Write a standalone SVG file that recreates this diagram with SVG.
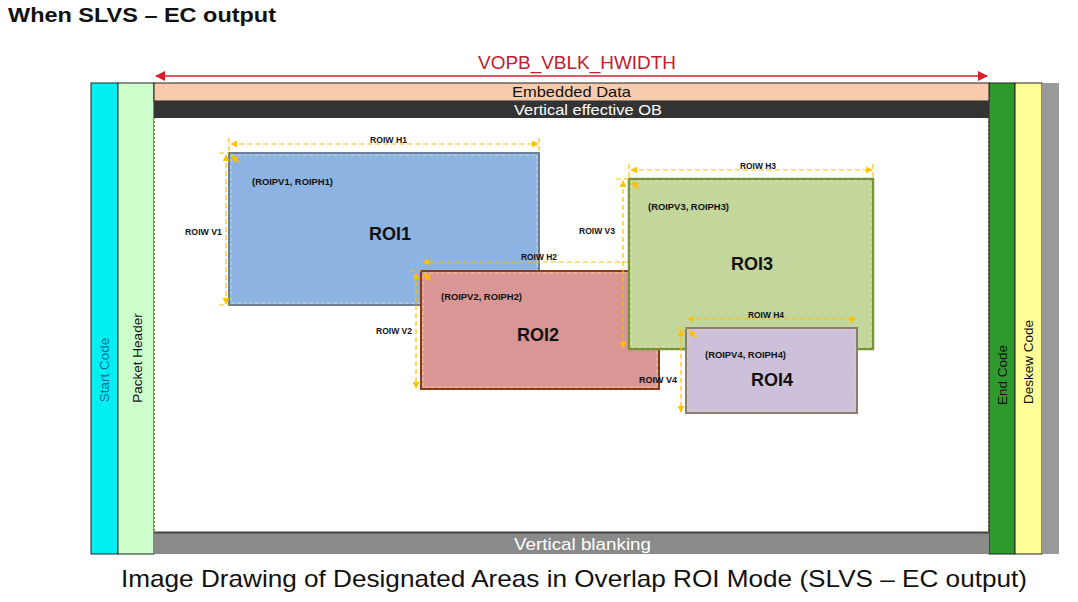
<svg xmlns="http://www.w3.org/2000/svg" width="1078" height="602" viewBox="0 0 1078 602">
<defs>
<marker id="ya" viewBox="0 0 10 10" refX="9" refY="5" markerWidth="7" markerHeight="7" orient="auto-start-reverse" markerUnits="userSpaceOnUse"><path d="M0,0 L10,5 L0,10 z" fill="#ffc000"/></marker>
<marker id="ra" viewBox="0 0 10 10" refX="9" refY="5" markerWidth="11" markerHeight="10" orient="auto-start-reverse" markerUnits="userSpaceOnUse"><path d="M0,0 L10,5 L0,10 z" fill="#d9202a"/></marker>
<style>
.t{font-family:"Liberation Sans",Arial,sans-serif}
.lbl{font-family:"Liberation Sans",Arial,sans-serif;font-size:9px;font-weight:bold;fill:#111}
.roi{font-family:"Liberation Sans",Arial,sans-serif;font-size:18px;font-weight:bold;fill:#111;text-anchor:middle}
.dim{stroke:#ffc000;stroke-width:1.2;stroke-dasharray:5 3;fill:none}
.cor{stroke:#ffc000;stroke-width:1.5;fill:none}
.vt{font-family:"Liberation Sans",Arial,sans-serif;font-size:13.5px;text-anchor:middle}
.in{fill:none;stroke-width:1;stroke-dasharray:4 2}
</style>
</defs>
<rect width="1078" height="602" fill="#ffffff"/>
<text class="t" x="8" y="22" font-size="20" font-weight="bold" fill="#111" textLength="268" lengthAdjust="spacingAndGlyphs">When SLVS – EC output</text>

<g id="frame">
<rect x="91" y="83" width="27" height="471" fill="#00f0f0" stroke="#222" stroke-width="1"/>
<rect x="118" y="83" width="36" height="471" fill="#ccffcc" stroke="#222" stroke-width="1"/>
<rect x="154" y="83" width="835" height="449" fill="#ffffff"/>
<line x1="154.5" y1="101" x2="154.5" y2="532" stroke="#8a8a30" stroke-width="1" stroke-dasharray="2 2"/>
<line x1="988.5" y1="101" x2="988.5" y2="532" stroke="#8a8a30" stroke-width="1" stroke-dasharray="2 2"/>
<rect x="989" y="83" width="26" height="471" fill="#2e9a2e" stroke="#222" stroke-width="1"/>
<rect x="1015" y="83" width="27" height="471" fill="#ffff99" stroke="#222" stroke-width="1"/>
<rect x="1042" y="83" width="17" height="471" fill="#9a9a9a"/>
<text class="vt" transform="translate(109,370) rotate(-90)" fill="#0070a0">Start Code</text>
<text class="vt" transform="translate(142,358) rotate(-90)" fill="#111">Packet Header</text>
<text class="vt" transform="translate(1007,375) rotate(-90)" fill="#111">End Code</text>
<text class="vt" transform="translate(1033,362) rotate(-90)" fill="#111">Deskew Code</text>
</g>

<g id="embedded">
<rect x="154" y="83" width="835" height="18" fill="#f8cbad" stroke="#222" stroke-width="1"/>
<text class="t" x="512" y="97" font-size="15" fill="#111" textLength="119" lengthAdjust="spacingAndGlyphs">Embedded Data</text>
</g>
<g id="vob">
<rect x="154" y="101" width="835" height="17" fill="#333333"/>
<text class="t" x="514" y="115" font-size="15" fill="#ffffff" textLength="148" lengthAdjust="spacingAndGlyphs">Vertical effective OB</text>
</g>
<g id="vblank">
<rect x="154" y="532" width="835" height="22" fill="#8a8a8a"/>
<line x1="154" y1="532.5" x2="989" y2="532.5" stroke="#444" stroke-width="2"/>
<text class="t" x="514" y="550" font-size="17" fill="#ffffff" textLength="137" lengthAdjust="spacingAndGlyphs">Vertical blanking</text>
</g>

<g id="roi1">
<rect x="229" y="153" width="310" height="152" fill="#8db3e2" stroke="#6b7f99" stroke-width="2"/>
<rect x="231" y="155" width="306" height="148" class="in" stroke="#c8d0dc"/>
<text class="roi" x="390" y="240">ROI1</text>
<text class="lbl" x="252" y="185" textLength="81" lengthAdjust="spacingAndGlyphs">(ROIPV1, ROIPH1)</text>
</g>
<g id="roi2">
<rect x="421" y="271" width="238" height="118" fill="#da9694" stroke="#8b3a1a" stroke-width="2"/>
<rect x="423" y="273" width="234" height="114" class="in" stroke="#f0c890"/>
<text class="roi" x="538" y="341">ROI2</text>
<text class="lbl" x="441" y="300" textLength="81" lengthAdjust="spacingAndGlyphs">(ROIPV2, ROIPH2)</text>
</g>
<g id="roi3">
<rect x="629" y="179" width="244" height="170" fill="#c3d69b" stroke="#77933c" stroke-width="2.5"/>
<rect x="631" y="181" width="240" height="166" class="in" stroke="#e0e8a8"/>
<text class="roi" x="752" y="270">ROI3</text>
<text class="lbl" x="648" y="210" textLength="81" lengthAdjust="spacingAndGlyphs">(ROIPV3, ROIPH3)</text>
</g>
<g id="roi4">
<rect x="686" y="328" width="171" height="85" fill="#ccc0da" stroke="#8c7b70" stroke-width="2"/>
<rect x="688" y="330" width="167" height="81" class="in" stroke="#e0d0b8"/>
<text class="roi" x="772" y="386">ROI4</text>
<text class="lbl" x="705" y="358" textLength="81" lengthAdjust="spacingAndGlyphs">(ROIPV4, ROIPH4)</text>
</g>

<g id="connectors">
<line x1="156" y1="76" x2="987" y2="76" stroke="#d9202a" stroke-width="1.5" marker-start="url(#ra)" marker-end="url(#ra)"/>
<text class="t" x="478" y="69" font-size="18" fill="#c0202a" textLength="198" lengthAdjust="spacingAndGlyphs">VOPB_VBLK_HWIDTH</text>

<line class="dim" x1="231" y1="144" x2="538" y2="144" marker-start="url(#ya)" marker-end="url(#ya)"/>
<line class="dim" x1="229" y1="138" x2="229" y2="153" stroke-dasharray="2 2"/>
<line class="dim" x1="539" y1="138" x2="539" y2="153" stroke-dasharray="2 2"/>
<text class="lbl" x="370" y="143" textLength="37" lengthAdjust="spacingAndGlyphs">ROIW H1</text>
<line class="dim" x1="226" y1="155" x2="226" y2="304" marker-start="url(#ya)" marker-end="url(#ya)"/>
<line class="dim" x1="219" y1="153" x2="229" y2="153" stroke-dasharray="2 2"/>
<line class="dim" x1="219" y1="305" x2="229" y2="305" stroke-dasharray="2 2"/>
<text class="lbl" x="185" y="235" textLength="37" lengthAdjust="spacingAndGlyphs">ROIW V1</text>
<line class="cor" x1="240" y1="163" x2="232" y2="156" marker-end="url(#ya)"/>

<line class="dim" x1="423" y1="262" x2="629" y2="262" marker-start="url(#ya)"/>
<text class="lbl" x="521" y="260" textLength="36" lengthAdjust="spacingAndGlyphs">ROIW H2</text>
<line class="dim" x1="416" y1="273" x2="416" y2="388" marker-start="url(#ya)" marker-end="url(#ya)"/>
<line class="dim" x1="410" y1="271" x2="421" y2="271" stroke-dasharray="2 2"/>
<text class="lbl" x="376" y="334" textLength="36" lengthAdjust="spacingAndGlyphs">ROIW V2</text>
<line class="cor" x1="432" y1="281" x2="424" y2="274" marker-end="url(#ya)"/>

<line class="dim" x1="631" y1="170" x2="872" y2="170" marker-start="url(#ya)" marker-end="url(#ya)"/>
<line class="dim" x1="629" y1="164" x2="629" y2="179" stroke-dasharray="2 2"/>
<line class="dim" x1="873" y1="164" x2="873" y2="179" stroke-dasharray="2 2"/>
<text class="lbl" x="740" y="169" textLength="36" lengthAdjust="spacingAndGlyphs">ROIW H3</text>
<line class="dim" x1="623" y1="181" x2="623" y2="348" marker-start="url(#ya)" marker-end="url(#ya)"/>
<line class="dim" x1="616" y1="179" x2="629" y2="179" stroke-dasharray="2 2"/>
<text class="lbl" x="579" y="234" textLength="36" lengthAdjust="spacingAndGlyphs">ROIW V3</text>
<line class="cor" x1="640" y1="189" x2="632" y2="182" marker-end="url(#ya)"/>

<line class="dim" x1="688" y1="319" x2="856" y2="319" marker-start="url(#ya)" marker-end="url(#ya)"/>
<text class="lbl" x="748" y="318" textLength="36" lengthAdjust="spacingAndGlyphs">ROIW H4</text>
<line class="dim" x1="681" y1="330" x2="681" y2="412" marker-start="url(#ya)" marker-end="url(#ya)"/>
<line class="dim" x1="676" y1="328" x2="686" y2="328" stroke-dasharray="2 2"/>
<text class="lbl" x="639" y="383" textLength="38" lengthAdjust="spacingAndGlyphs">ROIW V4</text>
<line class="cor" x1="697" y1="338" x2="689" y2="331" marker-end="url(#ya)"/>
</g>

<text class="t" x="121" y="587" font-size="24" fill="#111" textLength="906" lengthAdjust="spacingAndGlyphs">Image Drawing of Designated Areas in Overlap ROI Mode (SLVS – EC output)</text>
</svg>
